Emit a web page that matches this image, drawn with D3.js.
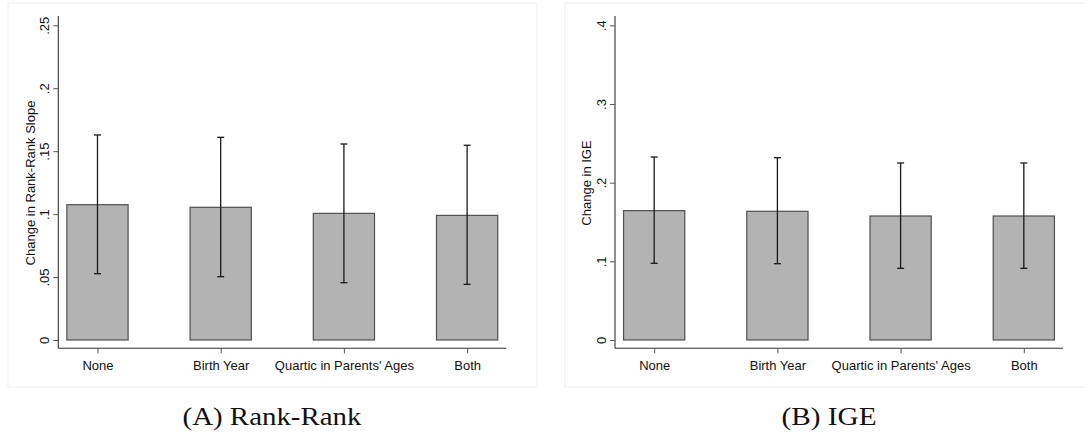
<!DOCTYPE html>
<html>
<head>
<meta charset="utf-8">
<script src="https://cdn.jsdelivr.net/npm/d3@7"></script>
<style>
  body { margin: 0; background: #fff; }
  svg { display: block; }
  .tick text { font-family: "Liberation Sans", Arial, sans-serif; font-size: 13px; fill: #111; }
  .axisTitle { font-family: "Liberation Sans", Arial, sans-serif; font-size: 13px; fill: #111; }
  .caption { font-family: "Liberation Serif", "DejaVu Serif", serif; font-size: 26px; fill: #111; }
</style>
</head>
<body>
<div id="chart"></div>
<script>
// Categories (same in both panels)
var categories = ["None", "Birth Year", "Quartic in Parents' Ages", "Both"];

// Panel A: Rank-Rank slope
var rankEstimates = [0.1075, 0.1054, 0.1006, 0.0990];
var rankLower = [0.0527, 0.0503, 0.0455, 0.0442];
var rankUpper = [0.1629, 0.1610, 0.1557, 0.1547];
var rankTicks = [0, 0.05, 0.1, 0.15, 0.2, 0.25];
var rankTickLabels = ["0", ".05", ".1", ".15", ".2", ".25"];

// Panel B: IGE
var igeEstimates = [0.1644, 0.1636, 0.1576, 0.1576];
var igeLower = [0.0975, 0.0970, 0.0911, 0.0911];
var igeUpper = [0.2326, 0.2318, 0.2250, 0.2250];
var igeTicks = [0, 0.1, 0.2, 0.3, 0.4];
var igeTickLabels = ["0", ".1", ".2", ".3", ".4"];

var svgWidth = 1085;
var svgHeight = 437;

var svg = d3.select("#chart")
  .append("svg")
  .attr("width", svgWidth)
  .attr("height", svgHeight);

// draws one panel; left = x of y-axis line
function drawPanel(opts) {
  var left = opts.left;
  var axisTop = 16, zeroY = 340, topY = 25.3, baseY = 348.3;
  var plotW = 448;

  // faint frame around the graph
  svg.append("rect")
    .attr("x", opts.frame[0]).attr("y", 3)
    .attr("width", opts.frame[1]).attr("height", 384)
    .attr("fill", "none")
    .attr("stroke", "#f0f0f0");

  var g = svg.append("g");

  var xScale = d3.scalePoint()
    .domain(opts.cats)
    .range([left, left + plotW])
    .padding(0.318);

  var yScale = d3.scaleLinear()
    .domain([0, d3.max(opts.ticks)])
    .range([zeroY, topY]);

  var barW = xScale.step() * 0.497;

  var rows = opts.cats.map(function (c, i) {
    return { cat: c, est: opts.est[i], lo: opts.lo[i], hi: opts.hi[i] };
  });

  // bars
  g.selectAll("rect.bar")
    .data(rows)
    .enter()
    .append("rect")
    .attr("class", "bar")
    .attr("x", d => xScale(d.cat) - barW / 2)
    .attr("y", d => yScale(d.est))
    .attr("width", barW)
    .attr("height", d => yScale(0) - yScale(d.est))
    .attr("fill", "#b3b3b3")
    .attr("stroke", "#505050")
    .attr("stroke-width", 1.2);

  // error bars
  g.selectAll("line.err")
    .data(rows)
    .enter()
    .append("line")
    .attr("x1", d => xScale(d.cat)).attr("x2", d => xScale(d.cat))
    .attr("y1", d => yScale(d.lo)).attr("y2", d => yScale(d.hi))
    .attr("stroke", "#1a1a1a").attr("stroke-width", 1.3);

  ["lo", "hi"].forEach(function (k) {
    g.selectAll("line.cap" + k)
      .data(rows)
      .enter()
      .append("line")
      .attr("x1", d => xScale(d.cat) - 3.5).attr("x2", d => xScale(d.cat) + 3.5)
      .attr("y1", d => yScale(d[k])).attr("y2", d => yScale(d[k]))
      .attr("stroke", "#1a1a1a").attr("stroke-width", 1.3);
  });

  // axis lines
  g.append("line")
    .attr("x1", left).attr("x2", left)
    .attr("y1", axisTop).attr("y2", baseY)
    .attr("stroke", "#333").attr("stroke-width", 1.1);
  g.append("line")
    .attr("x1", left).attr("x2", left + plotW)
    .attr("y1", baseY).attr("y2", baseY)
    .attr("stroke", "#333").attr("stroke-width", 1.1);

  // y axis
  var leftAxis = d3.axisLeft(yScale)
    .tickValues(opts.ticks)
    .tickSize(5)
    .tickPadding(3)
    .tickFormat((d, i) => opts.tickLabels[i]);
  var yAx = g.append("g")
    .attr("transform", `translate(${left}, 0)`)
    .call(leftAxis);
  yAx.select(".domain").remove();
  yAx.selectAll(".tick line").attr("stroke", "#555");
  yAx.selectAll(".tick text")
    .attr("transform", "rotate(-90)")
    .attr("x", 0)
    .attr("y", -9)
    .attr("dy", 0)
    .style("text-anchor", "middle");

  // x axis
  var bottomAxis = d3.axisBottom(xScale)
    .tickSize(5)
    .tickPadding(4);
  var xAx = g.append("g")
    .attr("transform", `translate(0, ${baseY})`)
    .call(bottomAxis);
  xAx.select(".domain").remove();
  xAx.selectAll(".tick line").attr("stroke", "#555");
  xAx.selectAll(".tick text").attr("dy", "0.95em");

  // y axis title
  g.append("text")
    .attr("class", "axisTitle")
    .attr("transform", `translate(${opts.titleX}, 183) rotate(-90)`)
    .style("text-anchor", "middle")
    .text(opts.title);

  // caption below
  svg.append("text")
    .attr("class", "caption")
    .attr("x", opts.captionX)
    .attr("y", 425)
    .attr("textLength", opts.captionLen)
    .attr("lengthAdjust", "spacingAndGlyphs")
    .style("text-anchor", "middle")
    .text(opts.caption);
}

drawPanel({
  left: 58.3, frame: [8, 529], cats: categories,
  est: rankEstimates, lo: rankLower, hi: rankUpper,
  ticks: rankTicks, tickLabels: rankTickLabels,
  title: "Change in Rank-Rank Slope", titleX: 34.5,
  caption: "(A) Rank-Rank", captionX: 272, captionLen: 179
});

drawPanel({
  left: 615, frame: [565, 530], cats: categories,
  est: igeEstimates, lo: igeLower, hi: igeUpper,
  ticks: igeTicks, tickLabels: igeTickLabels,
  title: "Change in IGE", titleX: 591,
  caption: "(B) IGE", captionX: 829, captionLen: 95
});
</script>
</body>
</html>
